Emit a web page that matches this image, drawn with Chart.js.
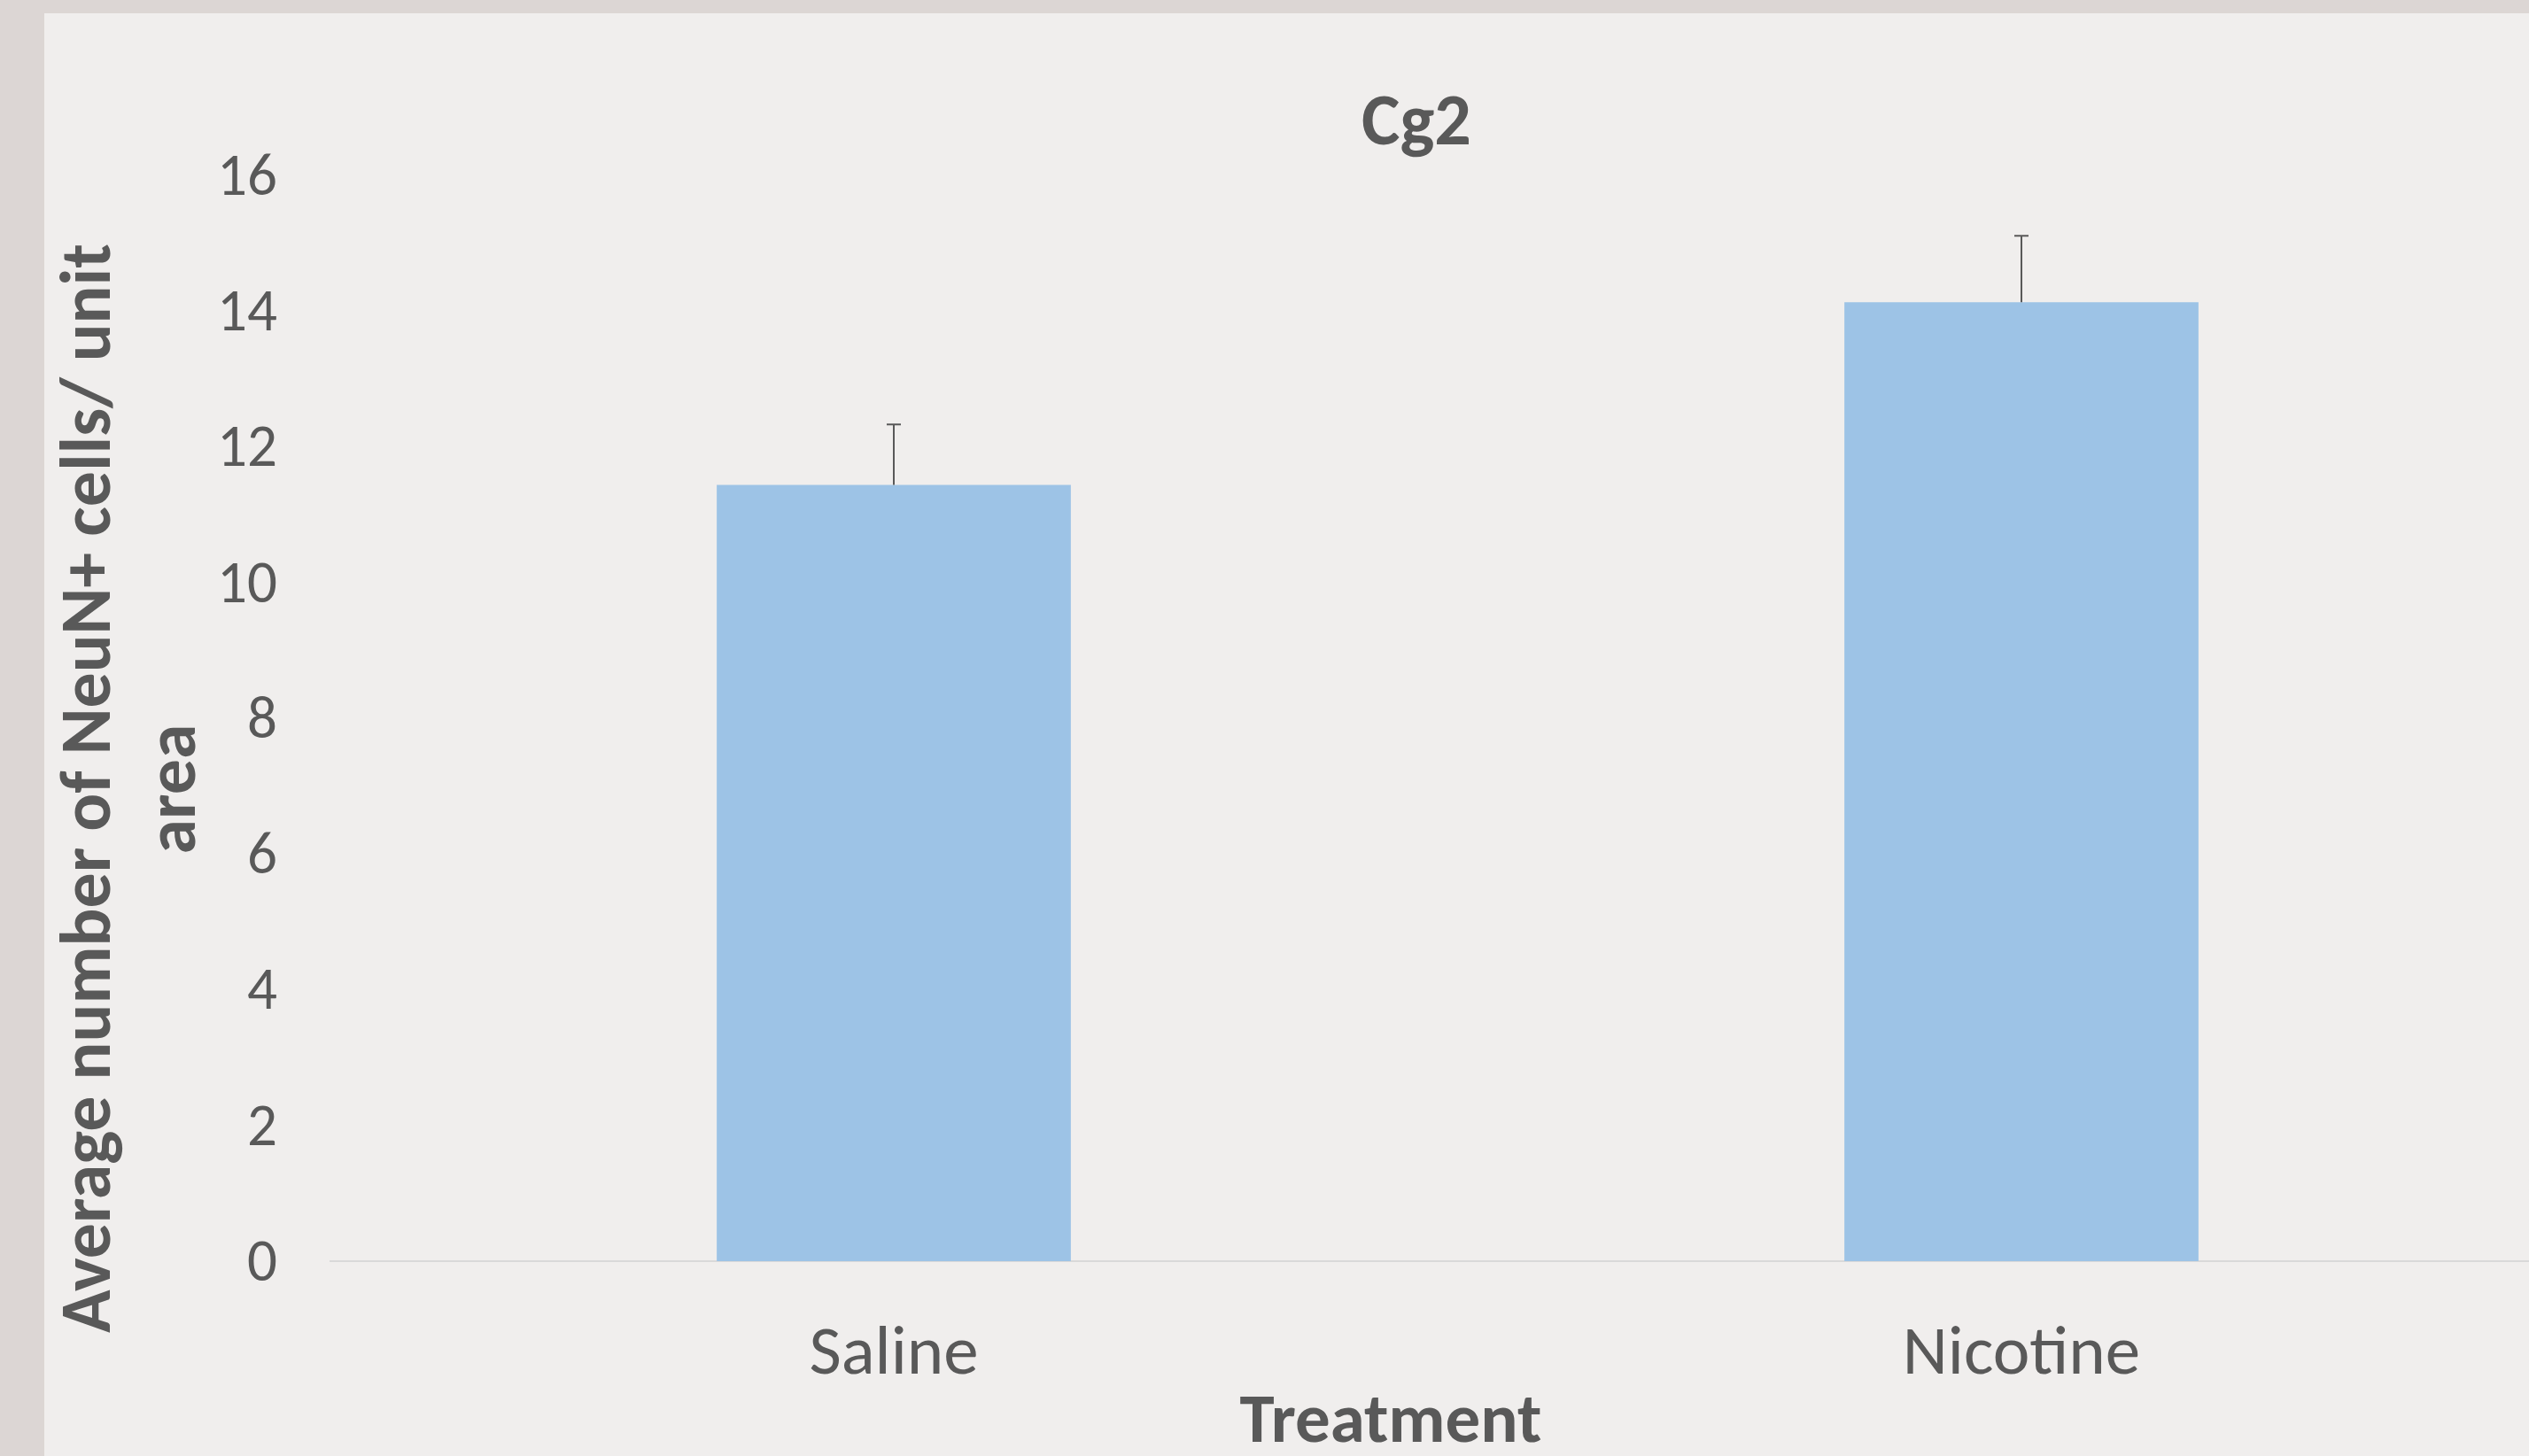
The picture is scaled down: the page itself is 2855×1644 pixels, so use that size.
<!DOCTYPE html>
<html>
<head>
<meta charset="utf-8">
<script src="https://cdn.jsdelivr.net/npm/chart.js@4.4.1/dist/chart.umd.min.js"></script>
<style>
html, body { margin: 0; padding: 0; overflow: hidden; background: #dcd6d4; }
#wrap { position: absolute; left: 0; top: 0; width: 3000px; height: 1644px; }
</style>
</head>
<body>
<div id="wrap"><canvas id="c"></canvas></div>
<script>
const categories = ['Saline', 'Nicotine'];
const meanValues = [11.44, 14.13];
const errorValues = [0.89, 0.98];
const yTicks = [0, 2, 4, 6, 8, 10, 12, 14, 16];
const chartTitle = 'Cg2';
const xTitle = 'Treatment';
const yTitleLines = ['Average number of NeuN+ cells/ unit', 'area'];

const FONT = "Carlito, Calibri, Lato, 'Open Sans', sans-serif";
const TEXT = '#595959';

const decor = {
  id: 'decor',
  beforeDraw(chart) {
    const ctx = chart.ctx;
    ctx.save();
    ctx.fillStyle = '#dcd6d4';
    ctx.fillRect(0, 0, chart.width, chart.height);
    ctx.fillStyle = '#f0eeed';
    ctx.fillRect(50, 15, chart.width - 50, chart.height - 15);
    ctx.restore();
  },
  afterDatasetsDraw(chart) {
    const ctx = chart.ctx;
    const meta = chart.getDatasetMeta(0);
    const ys = chart.scales.y;
    ctx.save();
    ctx.strokeStyle = TEXT;
    ctx.lineWidth = 2;
    meta.data.forEach((bar, i) => {
      const x = Math.round(bar.x);
      const y0 = ys.getPixelForValue(meanValues[i]);
      const y1 = ys.getPixelForValue(meanValues[i] + errorValues[i]);
      ctx.beginPath();
      ctx.moveTo(x, y0);
      ctx.lineTo(x, y1);
      ctx.moveTo(x - 8, y1);
      ctx.lineTo(x + 8, y1);
      ctx.stroke();
    });
    ctx.restore();
  },
  afterDraw(chart) {
    const ctx = chart.ctx;
    ctx.save();
    ctx.fillStyle = TEXT;
    ctx.textAlign = 'center';
    ctx.textBaseline = 'alphabetic';
    ctx.font = 'bold 82px ' + FONT;
    ctx.fillText(chartTitle, 1599, 163);
    ctx.font = 'bold 79px ' + FONT;
    ctx.fillText(xTitle, 1570, 1628);
    ctx.font = 'bold 80px ' + FONT;
    const pos = [[124, 890], [220, 891]];
    yTitleLines.forEach((t, i) => {
      ctx.save();
      ctx.translate(pos[i][0], pos[i][1]);
      ctx.rotate(-Math.PI / 2);
      ctx.fillText(t, 0, 0);
      ctx.restore();
    });
    ctx.restore();
  }
};

new Chart(document.getElementById('c'), {
  type: 'bar',
  data: {
    labels: categories,
    datasets: [{
      data: meanValues,
      backgroundColor: '#9dc3e6',
      borderWidth: 0,
      barPercentage: 0.314,
      categoryPercentage: 1.0
    }]
  },
  options: {
    responsive: true,
    maintainAspectRatio: false,
    animation: false,
    events: [],
    layout: { padding: { left: 0, top: 198, right: 81.5, bottom: 0 } },
    plugins: { legend: { display: false }, title: { display: false }, tooltip: { enabled: false } },
    scales: {
      x: {
        grid: { display: false, drawTicks: false },
        border: { display: true, color: '#d9d9d9', width: 2 },
        ticks: { color: TEXT, font: { family: FONT, size: 79 }, padding: 60, maxRotation: 0 },
        afterFit(s) { s.height = 220; }
      },
      y: {
        min: 0, max: 16,
        afterBuildTicks(s) { s.ticks = yTicks.map(v => ({ value: v })); },
        grid: { display: false, drawTicks: false },
        border: { display: false },
        ticks: { color: TEXT, font: { family: FONT, size: 67 }, padding: 59.5, labelOffset: 5 },
        afterFit(s) { s.width = 372.5; }
      }
    }
  },
  plugins: [decor]
});
</script>
</body>
</html>
